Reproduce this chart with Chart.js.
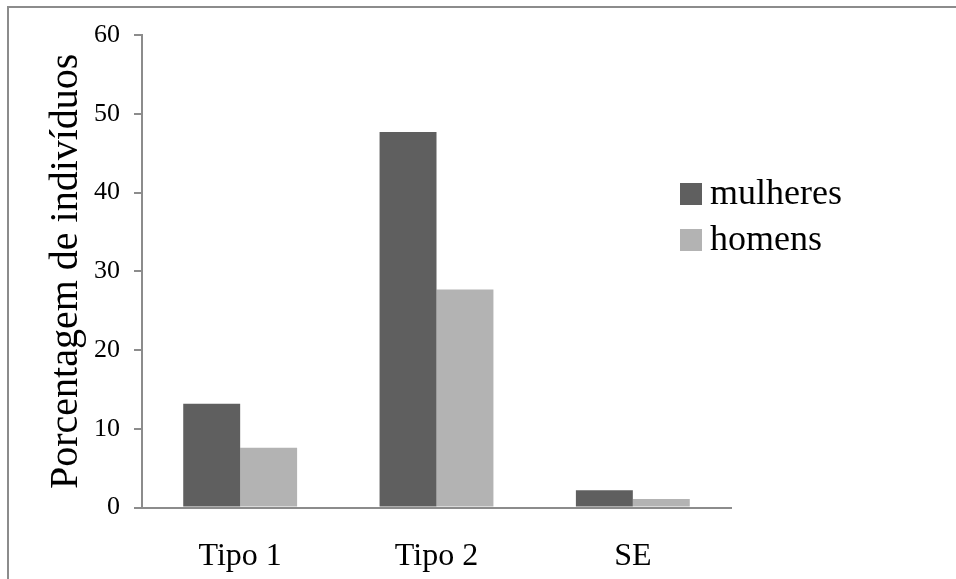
<!DOCTYPE html>
<html lang="pt">
<head>
    <meta charset="UTF-8">
    <title>Porcentagem de indivíduos</title>
    <script src="https://cdn.jsdelivr.net/npm/chart.js"></script>
    <style>
        html, body {
            margin: 0;
            padding: 0;
            background: #ffffff;
        }

        .wrap {
            position: relative;
            width: 956px;
            height: 579px;
        }
    </style>
</head>
<body>

<div class="wrap">
    <canvas id="barChart" width="956" height="579"></canvas>
</div>

<script>
    const categories = ['Tipo 1', 'Tipo 2', 'SE'];
    const mulheres = [13.2, 47.7, 2.2];
    const homens = [7.6, 27.7, 1.1];
    const seriesNames = ['mulheres', 'homens'];
    const yTitle = 'Porcentagem de indivíduos';

    const serif = '"Liberation Serif", "Times New Roman", serif';

    // outer frame + legend drawn by hand so it can sit over the plot like the original
    const framePlugin = {
        id: 'frameAndLegend',
        beforeDraw(chart) {
            const ctx = chart.ctx;
            ctx.save();
            ctx.strokeStyle = '#8c8c8c';
            ctx.lineWidth = 2;
            ctx.beginPath();
            ctx.moveTo(8, 579);
            ctx.lineTo(8, 7);
            ctx.lineTo(956, 7);
            ctx.stroke();
            ctx.restore();
        },
        afterDraw(chart) {
            const ctx = chart.ctx;
            ctx.save();
            ctx.font = '36px ' + serif;
            ctx.textBaseline = 'middle';
            chart.data.datasets.forEach((ds, i) => {
                const y = 194 + i * 46;
                ctx.fillStyle = ds.backgroundColor;
                ctx.fillRect(680, y - 11, 22, 22);
                ctx.fillStyle = '#000000';
                ctx.fillText(ds.label, 710, y + 1);
            });
            ctx.restore();
        }
    };

    new Chart(document.getElementById('barChart').getContext('2d'), {
        type: 'bar',
        data: {
            labels: categories,
            datasets: [{
                label: seriesNames[0],
                data: mulheres,
                backgroundColor: '#5f5f5f'
            }, {
                label: seriesNames[1],
                data: homens,
                backgroundColor: '#b3b3b3'
            }]
        },
        options: {
            responsive: false,
            animation: false,
            categoryPercentage: 0.58,
            barPercentage: 1.0,
            layout: {
                padding: {left: 8, right: 225, top: 35, bottom: -27}
            },
            plugins: {
                legend: {display: false},
                tooltip: {enabled: false}
            },
            scales: {
                x: {
                    grid: {display: false, drawTicks: false},
                    border: {display: true, color: '#8c8c8c', width: 2},
                    ticks: {
                        color: '#000000',
                        padding: 30,
                        font: {family: serif, size: 32}
                    }
                },
                y: {
                    min: 0,
                    max: 60,
                    ticks: {
                        stepSize: 10,
                        color: '#000000',
                        padding: 14,
                        font: {family: serif, size: 26}
                    },
                    grid: {
                        drawOnChartArea: false,
                        drawTicks: true,
                        tickLength: 8,
                        color: '#8c8c8c',
                        lineWidth: 2
                    },
                    border: {display: true, color: '#8c8c8c', width: 2},
                    title: {
                        display: true,
                        text: yTitle,
                        color: '#000000',
                        padding: {top: 44, bottom: 0},
                        font: {family: serif, size: 40, lineHeight: 0.7}
                    }
                }
            }
        },
        plugins: [framePlugin]
    });
</script>

</body>
</html>
